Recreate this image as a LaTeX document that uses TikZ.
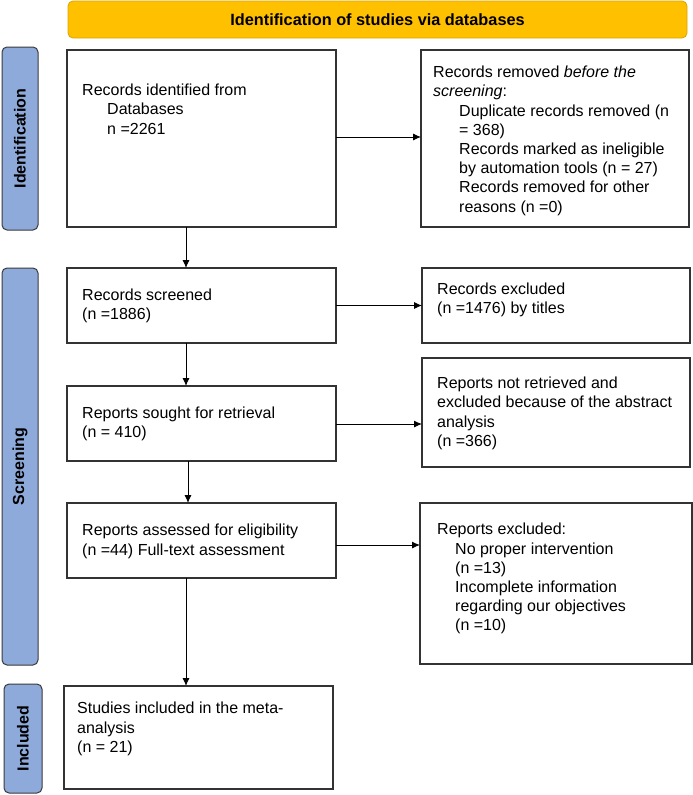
\documentclass[tikz,border=0pt]{standalone}
\usepackage{fontspec}
\setmainfont{Liberation Sans}
\usetikzlibrary{arrows.meta,fit,calc}
\definecolor{hdrfill}{HTML}{FFC000}
\definecolor{hdrdraw}{HTML}{D9A400}
\definecolor{sidefill}{HTML}{8EAADB}
\definecolor{sidedraw}{HTML}{3A3A3A}
\definecolor{boxdraw}{HTML}{333333}
\begin{document}
\begin{tikzpicture}[x=1pt,y=-1pt,
  box/.style={draw=boxdraw,line width=1.1pt,inner sep=0pt,outer sep=0pt},
  side/.style={draw=sidedraw,fill=sidefill,line width=1pt,rounded corners=5pt,inner sep=0pt,outer sep=0pt},
  hdr/.style={draw=hdrdraw,fill=hdrfill,line width=0.8pt,rounded corners=5pt,inner sep=0pt,outer sep=0pt},
  txt/.style={anchor=north west,inner sep=0pt,align=left,font=\fontsize{16}{19.2}\selectfont},
  sidetxt/.style={rotate=90,inner sep=0pt,font=\fontsize{16}{19}\selectfont\bfseries},
  arr/.style={line width=0.9pt,-{Latex[length=8pt,width=7pt]}}]
\useasboundingbox (0,0) rectangle (693,795);
% header
\node[hdr,fit={(68,1)(687,38)}] (hd) {};
\node[inner sep=0pt,font=\fontsize{16.3}{19}\selectfont\bfseries] (hdt) at (hd.center) {Identification of studies via databases};
% side labels
\node[side,fit={(2,47)(38,230)}] (s1) {};
\node[sidetxt] (s1t) at (s1.center) {Identification};
\node[side,fit={(2,268)(38,665)}] (s2) {};
\node[sidetxt] (s2t) at (s2.center) {Screening};
\node[side,fit={(4,684)(42,793)}] (s3) {};
\node[sidetxt] (s3t) at (s3.center) {Included};
% boxes
\node[box,fit={(67,50)(336,227)}] (A) {};
\node[txt] (tA) at (82,84) {Records identified from\\\hspace*{25pt}Databases\\\hspace*{25pt}n =2261};
\node[box,fit={(421,50)(689,227)}] (B) {};
\node[txt] (tB) at (433,66) {Records removed \textit{before the}\\\textit{screening}:\\
\hspace*{26pt}Duplicate records removed (n\\\hspace*{26pt}= 368)\\
\hspace*{26pt}Records marked as ineligible\\\hspace*{26pt}by automation tools (n = 27)\\
\hspace*{26pt}Records removed for other\\\hspace*{26pt}reasons (n =0)};
\node[box,fit={(67,268)(336,343)}] (C) {};
\node[txt] (tC) at (82,289) {Records screened\\(n =1886)};
\node[box,fit={(422,268)(690,343)}] (D) {};
\node[txt] (tD) at (437,283) {Records excluded\\(n =1476) by titles};
\node[box,fit={(67,386)(336,461)}] (E) {};
\node[txt] (tE) at (82,407) {Reports sought for retrieval\\(n = 410)};
\node[box,fit={(422,358)(690,467)}] (F) {};
\node[txt] (tF) at (437,377) {Reports not retrieved and\\excluded because of the abstract\\analysis\\(n =366)};
\node[box,fit={(67,503)(336,578)}] (G) {};
\node[txt] (tG) at (82,524) {Reports assessed for eligibility\\(n =44) Full-text assessment};
\node[box,fit={(420,503)(692,664)}] (H) {};
\node[txt] (tH) at (437,523) {Reports excluded:\\\hspace*{18pt}No proper intervention\\\hspace*{18pt}(n =13)\\\hspace*{18pt}Incomplete information\\\hspace*{18pt}regarding our objectives\\\hspace*{18pt}(n =10)};
\node[box,fit={(64,686)(333,789)}] (I) {};
\node[txt] (tI) at (77,702) {Studies included in the meta-\\analysis\\(n = 21)};
% connectors
\draw[arr] ([yshift=1.5pt]A.east) coordinate (a1) -- (a1 -| B.west);
\draw[arr] ($(A.south west)+(119,0)$) coordinate (a2) -- (a2 |- C.north);
\draw[arr] (C.east) coordinate (c1) -- (c1 -| D.west);
\draw[arr] ($(C.south west)+(119,0)$) coordinate (c2) -- (c2 |- E.north);
\draw[arr] ([yshift=-0.5pt]E.east) coordinate (e1) -- (e1 -| F.west);
\draw[arr] ($(E.south west)+(121,0)$) coordinate (e2) -- (e2 |- G.north);
\draw[arr] ([yshift=-4.5pt]G.east) coordinate (g1) -- (g1 -| H.west);
\draw[arr] ($(G.south west)+(119,0)$) coordinate (g2) -- (g2 |- I.north);
\end{tikzpicture}
\end{document}
